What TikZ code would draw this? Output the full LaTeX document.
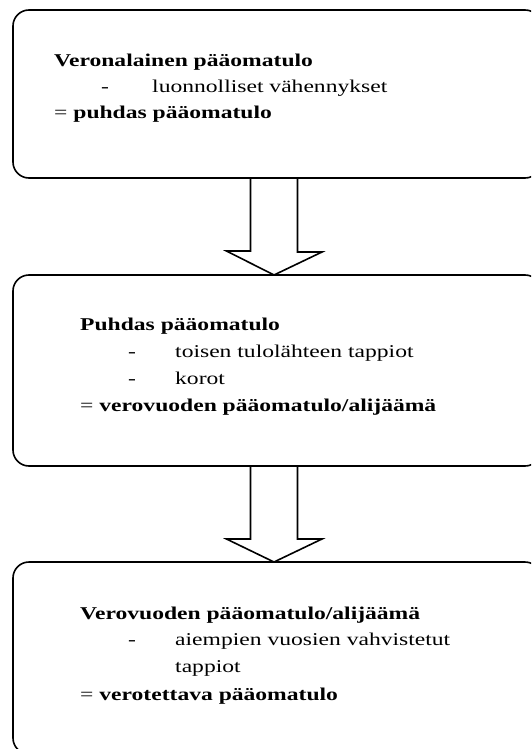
\documentclass[tikz,border=0pt]{standalone}
\usepackage{fontspec}
\setmainfont{Liberation Serif}
\newcommand{\widetxt}[1]{\scalebox{1.31}[1]{#1}}
\begin{document}
\begin{tikzpicture}[x=1pt,y=-1pt,
  box/.style={draw=black,line width=1.6pt,rounded corners=16pt},
  arr/.style={draw=black,line width=1.6pt,line join=miter},
  txt/.style={anchor=base west,inner sep=0pt,font=\fontsize{18}{22}\selectfont},
  btxt/.style={txt,font=\fontsize{18}{22}\selectfont\bfseries}]
\useasboundingbox (0,0) rectangle (531,749);
\clip (0,0) rectangle (531,749);
% boxes
\draw[box] (13,10) rectangle (541,178);
\draw[box] (13,275) rectangle (541,466);
\draw[box] (13,562) rectangle (541,754);
% arrows
\coordinate (a1) at (274,178);
\coordinate (t1) at (274,275);
\draw[arr] ([xshift=-23.5pt]a1) -- ++(0,73) -- ++(-24,0) -- (t1) -- ++(48,-23) -- ++(-24.5,0) -- ([xshift=23.5pt]a1);
\coordinate (a2) at (274,466);
\coordinate (t2) at (274,562);
\draw[arr] ([xshift=-23.5pt]a2) -- ++(0,73) -- ++(-24,0) -- (t2) -- ++(48,-23) -- ++(-24.5,0) -- ([xshift=23.5pt]a2);
% box 1 text
\node[btxt] (l11) at (54,66.5) {\widetxt{Veronalainen pääomatulo}};
\node[txt] (d12) at (101,92.5) {\widetxt{-}};
\node[txt] (l12) at (152,92.5) {\widetxt{luonnolliset vähennykset}};
\node[txt] (l13) at (54,119) {\widetxt{= \textbf{puhdas pääomatulo}}};
% box 2 text
\node[btxt] (l21) at (80,330) {\widetxt{Puhdas pääomatulo}};
\node[txt] (d22) at (128,357) {\widetxt{-}};
\node[txt] (l22) at (175,357) {\widetxt{toisen tulolähteen tappiot}};
\node[txt] (d23) at (128,384) {\widetxt{-}};
\node[txt] (l23) at (175,384) {\widetxt{korot}};
\node[txt] (l24) at (80,411.5) {\widetxt{= \textbf{verovuoden pääomatulo/alijäämä}}};
% box 3 text
\node[btxt] (l31) at (80,619) {\widetxt{Verovuoden pääomatulo/alijäämä}};
\node[txt] (d32) at (128,645.5) {\widetxt{-}};
\node[txt] (l32) at (175,645.5) {\widetxt{aiempien vuosien vahvistetut}};
\node[txt] (l33) at (175,672) {\widetxt{tappiot}};
\node[txt] (l34) at (80,700.5) {\widetxt{= \textbf{verotettava pääomatulo}}};
\end{tikzpicture}
\end{document}
